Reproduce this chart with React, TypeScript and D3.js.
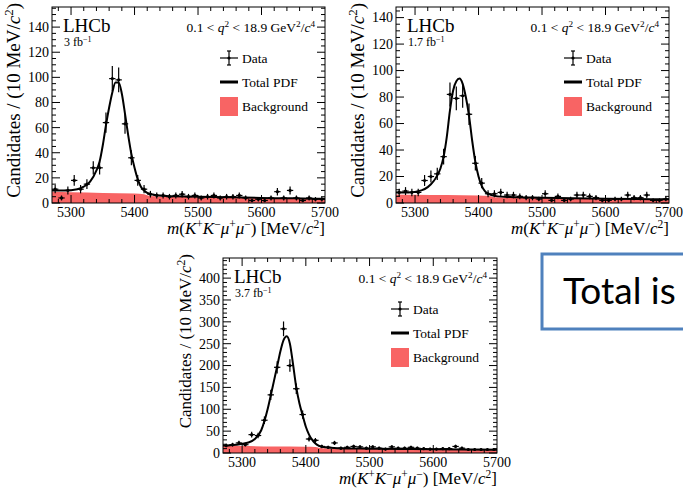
import React from 'react';
import * as d3 from 'd3';

// ---------- data ----------
const BIN_CENTERS = d3.range(5275, 5700, 10);
const X_TICKS = [5300, 5400, 5500, 5600, 5700];

const DATA_3FB = [11, 4, 10, 18, 11, 15, 28, 28, 64, 99, 98, 63, 36, 18, 11, 7, 6, 6, 5, 6, 7, 5, 6, 4, 5, 6, 4, 5, 5, 6, 4, 2, 3, 2, 4, 9, 4, 10, 4, 2, 4, 3, 3];
const DATA_17FB = [8, 9, 8, 8, 17, 20, 22, 35, 82, 79, 81, 67, 30, 15, 7, 7, 8, 6, 6, 5, 4, 4, 3, 7, 2, 5, 2, 3, 6, 6, 5, 4, 2, 2, 3, 3, 6, 4, 4, 6, 2, 2, 3];
const DATA_37FB = [17, 19, 23, 19, 42, 40, 75, 133, 196, 284, 200, 147, 88, 32, 29, 15, 13, 23, 11, 13, 15, 14, 11, 14, 11, 9, 14, 11, 11, 13, 11, 10, 9, 9, 10, 10, 15, 11, 8, 8, 8, 8, 8];

const CURVE_MASS = [5270, 5290, 5310, 5320, 5330, 5340, 5345, 5350, 5355, 5360, 5365, 5370, 5375, 5380, 5385, 5390, 5395, 5400, 5405, 5410, 5415, 5420, 5430, 5450, 5500, 5550, 5600, 5650, 5700];
const PDF_3FB = [10, 10, 11, 13, 17, 26, 33, 46, 62, 76, 88, 96, 96, 87, 71, 54, 39, 28, 19, 13, 10, 8, 6.5, 5.5, 5, 4.5, 4, 3.7, 3.3];
const PDF_17FB = [8, 8, 9.5, 12, 17, 26, 35, 50, 70, 85, 92, 94, 90, 80, 66, 47, 31, 20, 13, 9, 7, 6, 5, 4.5, 4, 3.6, 3.3, 3, 2.8];
const PDF_37FB = [17, 19, 24, 32, 52, 100, 132, 165, 198, 232, 258, 267, 250, 202, 150, 113, 86, 60, 42, 30, 22, 17, 13, 11, 10, 9.3, 8.6, 8, 7.5];

const BKG_MASS = [5270, 5300, 5350, 5400, 5415, 5425, 5450, 5500, 5550, 5600, 5650, 5700];
const BKG_3FB = [9, 8.5, 8, 7.5, 7, 5.5, 5, 4.6, 4.2, 3.8, 3.4, 3];
const BKG_17FB = [6.5, 6.3, 6, 5.7, 5.4, 4.3, 4, 3.7, 3.4, 3.1, 2.9, 2.7];
const BKG_37FB = [17, 16, 15, 14.5, 14, 11, 10.5, 10, 9.3, 8.6, 8, 7.5];

const LUMI = ['3', '1.7', '3.7'];

// ---------- layout ----------
const SERIF = '"Liberation Serif", "DejaVu Serif", serif';
const BKG_COLOR = '#f86464';

type Seg = { t: string; i?: boolean; sup?: boolean };

function spans(segs: Seg[], size: number, raise = 0.35) {
  let raised = false;
  return segs.map((s, k) => {
    let dy: number | undefined;
    if (s.sup && !raised) { dy = -raise * size; raised = true; }
    else if (!s.sup && raised) { dy = raise * size; raised = false; }
    return (
      <tspan key={k} dy={dy} fontSize={s.sup ? size * 0.68 : size} fontStyle={s.i ? 'italic' : 'normal'}>
        {s.t}
      </tspan>
    );
  });
}

const Y_TITLE: Seg[] = [{ t: 'Candidates / (10 MeV/' }, { t: 'c', i: true }, { t: '2', sup: true }, { t: ')' }];
const X_TITLE: Seg[] = [
  { t: 'm', i: true }, { t: '(' }, { t: 'K', i: true }, { t: '+', sup: true }, { t: 'K', i: true }, { t: '\u2212', sup: true },
  { t: 'μ', i: true }, { t: '+', sup: true }, { t: 'μ', i: true }, { t: '\u2212', sup: true }, { t: ') [MeV/' }, { t: 'c', i: true },
  { t: '2', sup: true }, { t: ']' },
];
const Q2: Seg[] = [
  { t: '0.1 < ' }, { t: 'q', i: true }, { t: '2', sup: true }, { t: ' < 18.9 GeV' }, { t: '2', sup: true }, { t: '/' },
  { t: 'c', i: true }, { t: '4', sup: true },
];

type PanelProps = {
  id: string;
  left: number; right: number; top: number; bottom: number;
  yMax: number; yMajor: number; yMinor: number;
  lumi: string;
  data: number[]; pdf: number[]; bkg: number[];
  yTitleSize: number;
};

function Panel(p: PanelProps) {
  const x = d3.scaleLinear().domain([5270, 5700]).range([p.left, p.right]);
  const y = d3.scaleLinear().domain([0, p.yMax]).range([p.bottom, p.top]);
  const area = d3.area<number>()
    .x((_, i) => x(BKG_MASS[i]))
    .y0(y(0))
    .y1((d) => y(d))
    .curve(d3.curveMonotoneX);
  const line = d3.line<number>()
    .x((_, i) => x(CURVE_MASS[i]))
    .y((d) => y(d))
    .curve(d3.curveMonotoneX);
  const yMajorTicks = d3.range(0, p.yMax + 1e-6, p.yMajor);
  const yMinorTicks = d3.range(0, p.yMax, p.yMinor);
  const xMinorTicks = d3.range(5280, 5700, 20);
  const clip = `clip-${p.id}`;
  const lx = p.left + 177;
  const tx = p.left + 190;
  return (
    <g fontFamily={SERIF} fill="black">
      <defs>
        <clipPath id={clip}>
          <rect x={p.left} y={p.top} width={p.right - p.left} height={p.bottom - p.top} />
        </clipPath>
      </defs>
      <g clipPath={`url(#${clip})`}>
        <path d={area(p.bkg) || ''} fill={BKG_COLOR} stroke="none" />
        <path d={line(p.pdf) || ''} fill="none" stroke="black" strokeWidth={2} />
        {p.data.map((v, i) => {
          const cx = x(BIN_CENTERS[i]);
          const cy = y(v);
          const e = Math.sqrt(v);
          return (
            <g key={i} stroke="black" strokeWidth={1.2}>
              <line x1={x(BIN_CENTERS[i] - 5)} x2={x(BIN_CENTERS[i] + 5)} y1={cy} y2={cy} />
              <line x1={cx} x2={cx} y1={y(v - e)} y2={y(v + e)} />
              <circle cx={cx} cy={cy} r={1.6} fill="black" stroke="none" />
            </g>
          );
        })}
      </g>
      {/* frame */}
      <rect x={p.left} y={p.top} width={p.right - p.left} height={p.bottom - p.top} fill="none" stroke="black" strokeWidth={1} />
      {/* y ticks */}
      {yMinorTicks.map((t) => {
        const major = Math.abs(t / p.yMajor - Math.round(t / p.yMajor)) < 1e-6;
        const len = major ? 8 : 4;
        return (
          <g key={`y${t}`} stroke="black" strokeWidth={1}>
            <line x1={p.left} x2={p.left + len} y1={y(t)} y2={y(t)} />
            <line x1={p.right} x2={p.right - len} y1={y(t)} y2={y(t)} />
          </g>
        );
      })}
      {/* x ticks */}
      {xMinorTicks.map((t) => {
        const major = t % 100 === 0;
        const len = major ? 8 : 4;
        return (
          <g key={`x${t}`} stroke="black" strokeWidth={1}>
            <line x1={x(t)} x2={x(t)} y1={p.bottom} y2={p.bottom - len} />
            <line x1={x(t)} x2={x(t)} y1={p.top} y2={p.top + len} />
          </g>
        );
      })}
      {yMajorTicks.map((t) => (
        <text key={`yl${t}`} x={p.left - 3} y={y(t)} dy="0.35em" textAnchor="end" fontSize={14}>{t}</text>
      ))}
      {X_TICKS.map((t) => (
        <text key={`xl${t}`} x={x(t)} y={p.bottom + 14} textAnchor="middle" fontSize={14}>{t}</text>
      ))}
      {/* titles */}
      <text transform={`translate(${p.left - 32},${p.top - 4}) rotate(-90)`} textAnchor="end" fontSize={p.yTitleSize}>
        {spans(Y_TITLE, p.yTitleSize)}
      </text>
      <text x={p.right} y={p.bottom + 31} textAnchor="end" fontSize={17}>{spans(X_TITLE, 17)}</text>
      {/* labels */}
      <text x={p.left + 11} y={p.top + 25} fontSize={19}>LHCb</text>
      <text x={p.left + 12} y={p.top + 39} fontSize={12}>{spans([{ t: `${p.lumi} fb` }, { t: '\u22121', sup: true }], 12, 0.3)}</text>
      <text x={p.right - 10} y={p.top + 24.5} textAnchor="end" fontSize={13.5}>{spans(Q2, 13.5)}</text>
      {/* legend */}
      <g stroke="black" strokeWidth={1.2}>
        <line x1={lx - 9} x2={lx + 9} y1={p.top + 51} y2={p.top + 51} />
        <line x1={lx} x2={lx} y1={p.top + 44} y2={p.top + 58} />
        <line x1={lx - 2} x2={lx + 2} y1={p.top + 44} y2={p.top + 44} />
        <line x1={lx - 2} x2={lx + 2} y1={p.top + 58} y2={p.top + 58} />
        <circle cx={lx} cy={p.top + 51} r={1.6} fill="black" stroke="none" />
      </g>
      <text x={tx} y={p.top + 51} dy="0.35em" fontSize={13.5}>Data</text>
      <line x1={lx - 9} x2={lx + 9} y1={p.top + 75} y2={p.top + 75} stroke="black" strokeWidth={3} />
      <text x={tx} y={p.top + 75} dy="0.35em" fontSize={13.5}>Total PDF</text>
      <rect x={lx - 9} y={p.top + 90} width={18} height={19} fill={BKG_COLOR} />
      <text x={tx} y={p.top + 99.5} dy="0.35em" fontSize={13.5}>Background</text>
    </g>
  );
}

export default function App() {
  return (
    <svg width={683} height={489} style={{ position: 'absolute', left: 0, top: 0, background: 'white' }}>
      <rect x={0} y={0} width={683} height={489} fill="white" />
      <Panel id="p1" left={52} right={325} top={7} bottom={203} yMax={156} yMajor={20} yMinor={5}
        lumi={LUMI[0]} data={DATA_3FB} pdf={PDF_3FB} bkg={BKG_3FB} yTitleSize={19} />
      <Panel id="p2" left={396} right={669} top={7} bottom={203} yMax={148} yMajor={20} yMinor={5}
        lumi={LUMI[1]} data={DATA_17FB} pdf={PDF_17FB} bkg={BKG_17FB} yTitleSize={19} />
      <Panel id="p3" left={223} right={497} top={258} bottom={453} yMax={446} yMajor={50} yMinor={10}
        lumi={LUMI[2]} data={DATA_37FB} pdf={PDF_37FB} bkg={BKG_37FB} yTitleSize={17} />
      <rect x={542} y={254} width={200} height={75} fill="white" stroke="#4f81bd" strokeWidth={3} />
      <text x={563} y={304} fontFamily="Lato, 'Liberation Sans', sans-serif" fontSize={37} fill="black">Total is</text>
    </svg>
  );
}
